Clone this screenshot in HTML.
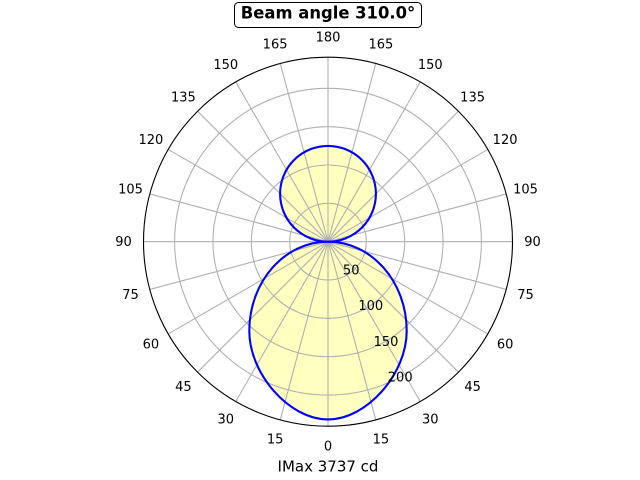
<!DOCTYPE html>
<html><head><meta charset="utf-8"><style>
html,body{margin:0;padding:0;background:#fff;}
svg{display:block;}
text{font-family:"DejaVu Sans","Liberation Sans",sans-serif;fill:#000;}
</style></head><body>
<svg width="640" height="480" viewBox="0 0 640 480" xmlns="http://www.w3.org/2000/svg">
<rect width="640" height="480" fill="#fff"/>
<!-- fills -->
<g fill="#ffffc0" stroke="none">
<circle cx="328" cy="193.8" r="47.9"/>
<path d="M328,241.7 C284.5,241.7 249.3,281.7 249.3,331 C249.3,373.4 288.65,419.4 328,419.4 C367.35,419.4 406.7,373.4 406.7,331 C406.7,281.7 371.5,241.7 328,241.7 Z"/>
</g>
<!-- grid -->
<g stroke="#b0b0b0" stroke-width="1.1" fill="none">
<circle cx="328" cy="241.7" r="38.35"/>
<circle cx="328" cy="241.7" r="76.7"/>
<circle cx="328" cy="241.7" r="115.05"/>
<circle cx="328" cy="241.7" r="153.4"/>
<line x1="328" y1="426.2" x2="328" y2="57.2"/>
<line x1="375.75" y1="419.9" x2="280.25" y2="63.5"/>
<line x1="420.25" y1="401.5" x2="235.75" y2="81.9"/>
<line x1="458.5" y1="372.2" x2="197.5" y2="111.2"/>
<line x1="487.8" y1="333.95" x2="168.2" y2="149.45"/>
<line x1="506.2" y1="289.45" x2="149.8" y2="193.95"/>
<line x1="512.5" y1="241.7" x2="143.5" y2="241.7"/>
<line x1="506.2" y1="193.95" x2="149.8" y2="289.45"/>
<line x1="487.8" y1="149.45" x2="168.2" y2="333.95"/>
<line x1="458.5" y1="111.2" x2="197.5" y2="372.2"/>
<line x1="420.25" y1="81.9" x2="235.75" y2="401.5"/>
<line x1="375.75" y1="63.5" x2="280.25" y2="419.9"/>
</g>
<!-- curves -->
<g stroke="#0000ff" stroke-width="2.1" fill="none" stroke-linejoin="round">
<circle cx="328" cy="193.8" r="47.9"/>
<path d="M328,241.7 C284.5,241.7 249.3,281.7 249.3,331 C249.3,373.4 288.65,419.4 328,419.4 C367.35,419.4 406.7,373.4 406.7,331 C406.7,281.7 371.5,241.7 328,241.7 Z"/>
</g>
<!-- outer spine -->
<circle cx="328" cy="241.7" r="184.5" fill="none" stroke="#000" stroke-width="1.1"/>
<!-- angle labels -->
<g font-size="13" text-anchor="middle">
<text x="328" y="450.7">0</text>
<text x="275.1" y="443.7">15</text><text x="380.9" y="443.7">15</text>
<text x="225.75" y="423.3">30</text><text x="430.25" y="423.3">30</text>
<text x="183.4" y="390.8">45</text><text x="472.6" y="390.8">45</text>
<text x="150.9" y="348.45">60</text><text x="505.1" y="348.45">60</text>
<text x="130.5" y="299.1">75</text><text x="525.5" y="299.1">75</text>
<text x="123.5" y="246.2">90</text><text x="532.5" y="246.2">90</text>
<text x="130.5" y="193.3">105</text><text x="525.5" y="193.3">105</text>
<text x="150.9" y="143.95">120</text><text x="505.1" y="143.95">120</text>
<text x="183.4" y="101.6">135</text><text x="472.6" y="101.6">135</text>
<text x="225.75" y="69.1">150</text><text x="430.25" y="69.1">150</text>
<text x="275.1" y="48.7">165</text><text x="380.9" y="48.7">165</text>
<text x="328" y="41.7">180</text>
<!-- radial labels -->
<text x="351.2" y="274.5">50</text>
<text x="370.8" y="309.8">100</text>
<text x="386" y="345.8">150</text>
<text x="400.2" y="381.5">200</text>
</g>
<!-- xlabel -->
<text x="328" y="471.7" font-size="15" text-anchor="middle">IMax 3737 cd</text>
<!-- title -->
<rect x="234.5" y="2.5" width="187" height="25" rx="4" ry="4" fill="#fff" stroke="#000" stroke-width="1"/>
<text x="328" y="18.6" font-size="16.4" font-weight="bold" text-anchor="middle">Beam angle 310.0°</text>
</svg>
</body></html>
